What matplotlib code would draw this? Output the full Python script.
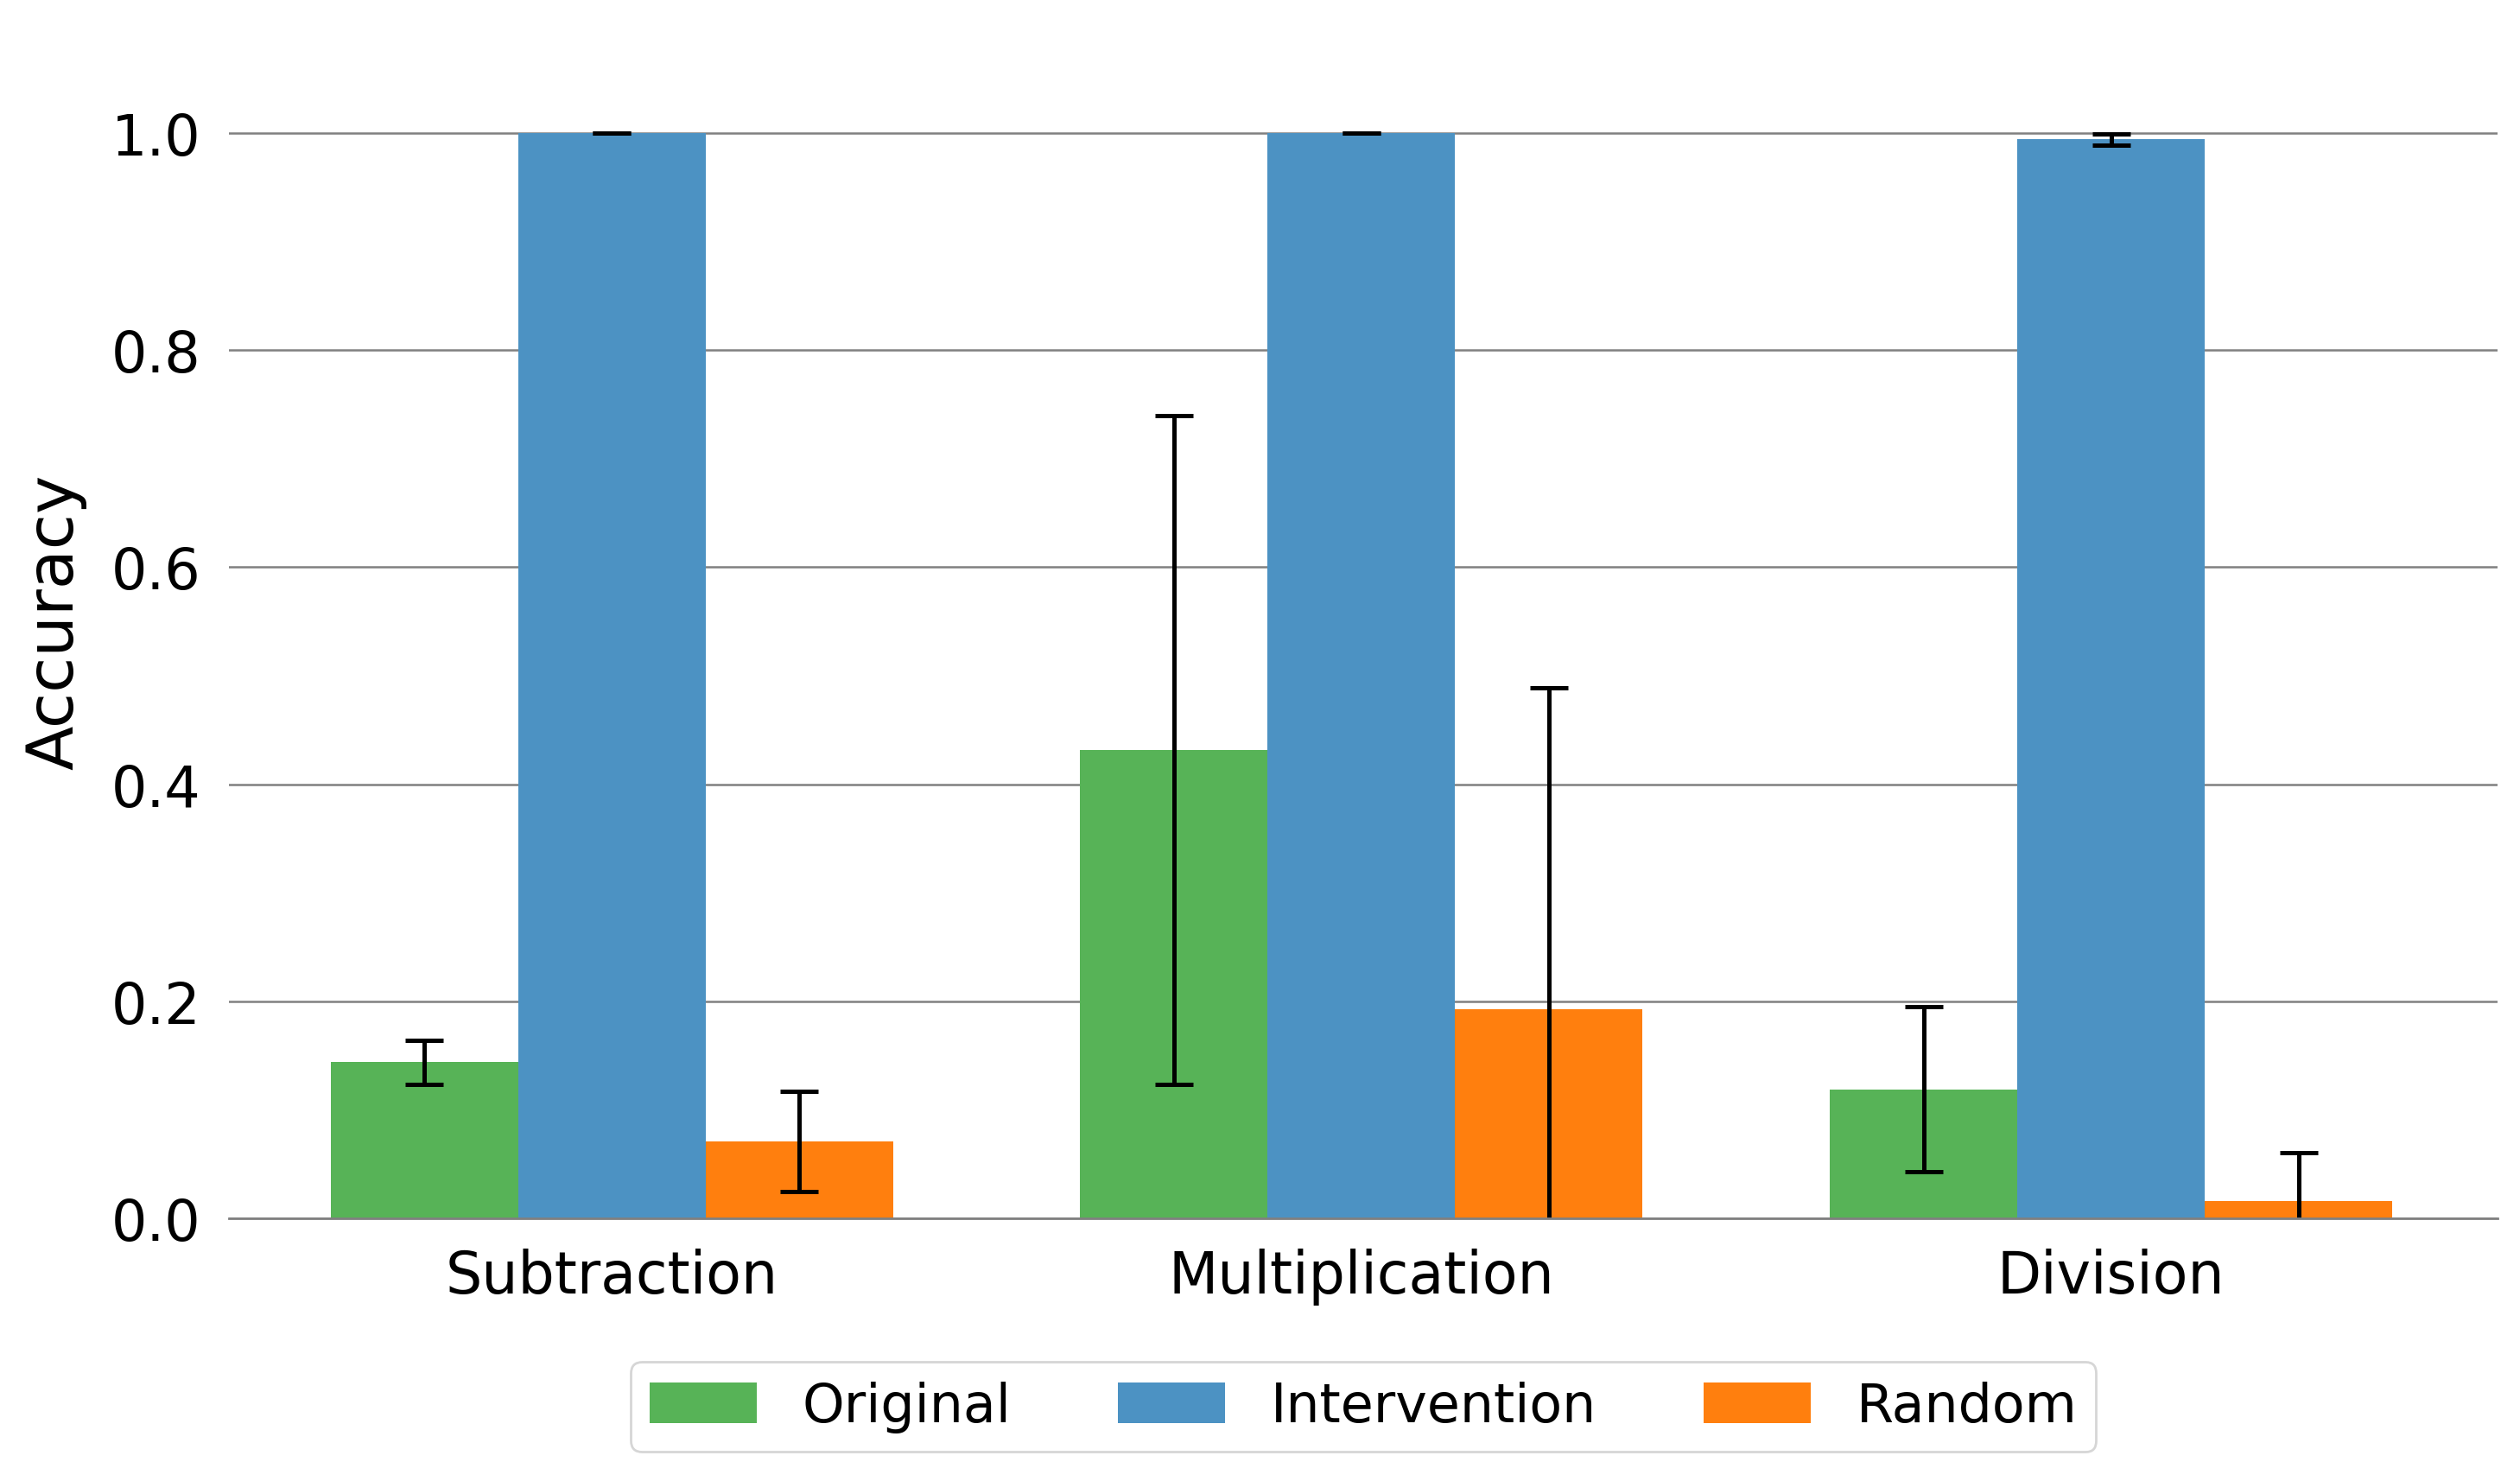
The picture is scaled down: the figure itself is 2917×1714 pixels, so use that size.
import numpy as np
import matplotlib
matplotlib.use("Agg")
import matplotlib.pyplot as plt

# datos
tareas = ["Subtraction", "Multiplication", "Division"]
series = ["Original", "Intervention", "Random"]
original = [0.144, 0.432, 0.119]
original_err = [0.020, 0.308, 0.076]
intervention = [1.0, 1.0, 0.994]
intervention_err = [0.0, 0.0, 0.005]
random_acc = [0.071, 0.193, 0.016]
random_err = [0.046, 0.296, 0.045]

colores = ["#57b357", "#4c92c3", "#ff7f0e"]

fig = plt.figure(figsize=(14.585, 8.575), dpi=200)
ax = fig.add_axes([0.091, 0.177, 0.9, 0.806])

x = np.arange(len(tareas))
w = 0.25
valores = [original, intervention, random_acc]
errores = [original_err, intervention_err, random_err]
for k in range(3):
    ax.bar(x + (k - 1) * w, valores[k], w, color=colores[k], label=series[k],
           yerr=errores[k], capsize=8,
           error_kw=dict(ecolor="black", elinewidth=1.8, capthick=1.8), zorder=2)

ax.set_ylim(0, 1.1)
ax.set_xlim(-0.51, 2.515)
ax.set_xticks(x)
ax.set_xticklabels(tareas)
ax.set_yticks([0.0, 0.2, 0.4, 0.6, 0.8, 1.0])
ax.tick_params(axis="x", length=0, labelsize=24, pad=12)
ax.tick_params(axis="y", length=0, labelsize=23.5, pad=12)
ax.set_ylabel("Accuracy", fontsize=27, labelpad=10)
ax.yaxis.grid(True, color="gray", linewidth=0.9, zorder=0)
ax.set_axisbelow(True)
for s in ["top", "right", "left"]:
    ax.spines[s].set_visible(False)
ax.spines["bottom"].set_color("gray")
ax.spines["bottom"].set_linewidth(1.0)

ax.legend(loc="upper center", bbox_to_anchor=(0.5, -0.12), ncol=3, fontsize=22.3,
          columnspacing=2.0, handlelength=2.0, handleheight=0.8, handletextpad=0.85,
          borderpad=0.35, borderaxespad=0)

fig.savefig("out.png", dpi=200)
